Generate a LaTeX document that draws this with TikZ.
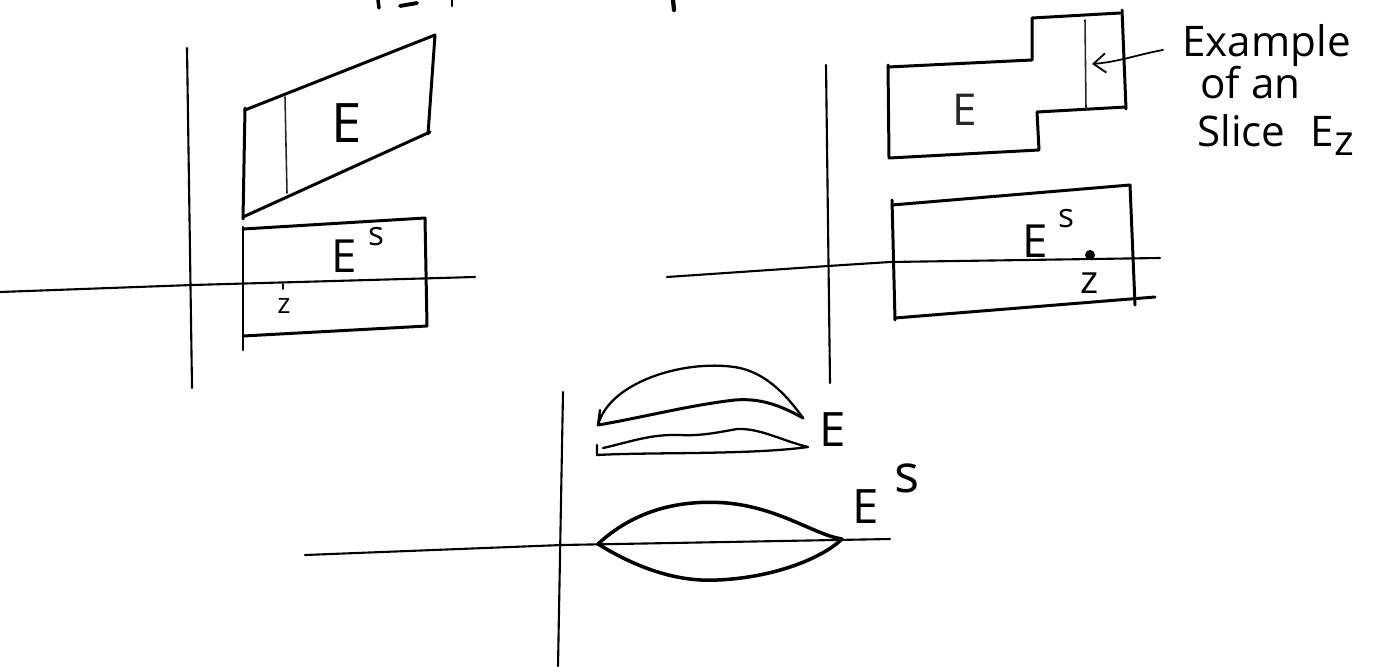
\documentclass[tikz,border=0pt]{standalone}
\usepackage{fontspec}
\setmainfont{Open Sans}
\usetikzlibrary{arrows.meta}
\begin{document}
\begin{tikzpicture}[x=0.02cm,y=-0.02cm, line cap=round, line join=round,
  axisline/.style={line width=1.2pt},
  edgeline/.style={line width=1.7pt},
  thinline/.style={line width=0.9pt, black!85},
  lbl/.style={inner sep=0pt, font=\fontsize{#1}{#1}\selectfont},
]
\useasboundingbox (0,0) rectangle (1388,666);

% cut-off title fragments at the top edge
\draw[line width=2pt] (378,0) -- (379,8);
\draw[line width=2.2pt] (400,6) -- (417,3);
\draw[line width=1.6pt] (452,0) -- (452,6);
\draw[line width=2.4pt] (673,0) -- (674,10);

% ---------------- left panel ----------------
\draw[axisline] (187,48) -- (192,388);
\draw[axisline] (0,292) -- (192,285) -- (475,277);
\draw[edgeline] (245,110) -- (435,35) -- (428,134);
\draw[edgeline] (430,132) -- (243,217) -- cycle;
\draw[edgeline] (245,108) -- (243,219);
\draw[thinline] (285,97) -- (287,193);
\node[lbl=31] (eA) at (347,123) {E};

\draw[edgeline] (243,229) -- (425,218) -- (427,326) -- (243,336);
\draw[edgeline] (243,227) -- (243,350);
\node[lbl=26] (esA) at (344,256) {E};
\node[lbl=19] (sA) at (376,237) {s};
\node[lbl=16] (zA) at (284,306) {z};
\draw[line width=1pt] (283,284) -- (283,289);

% ---------------- right panel ----------------
\draw[axisline] (826,65) -- (830,383);
\draw[axisline] (667,277) -- (828,266) -- (890,262) -- (1160,258);
\draw[edgeline] (888,67) -- (1032,60) -- (1032,18) -- (1120,13);
\draw[edgeline] (1122,10) -- (1126,109);
\draw[edgeline] (1126,107) -- (1037,112) -- (1039,150) -- (889,158) -- (888,65);
\draw[thinline] (1085,20) -- (1086,110);
\node[lbl=25, text=black!85] (eB) at (965,110) {E};

\coordinate (arrS) at (1163,50);
\coordinate (arrE) at (1092,64);
\draw[line width=1pt, -{Straight Barb[length=7pt,width=11pt]}] (arrS) .. controls (1140,54) and (1118,62) .. (arrE);

\node[lbl=24, anchor=base west] (ex1) at (1182,56) {Example};
\node[lbl=24, anchor=base west] (ex2) at (1200,98) {of an};
\node[lbl=24, anchor=base west] (ex3) at (1197,146) {Slice\hspace{0.6em}E\raisebox{-0.4ex}{z}};

\draw[edgeline] (892,205) -- (1130,185) -- (1135,305);
\draw[edgeline] (895,318) -- (1155,297);
\draw[edgeline] (892,200) -- (895,320);
\node[lbl=26] (esB) at (1035,241) {E};
\node[lbl=19] (sB) at (1066,219) {s};
\fill (1090,255) circle (5);
\node[lbl=22] (zB) at (1090,283) {z};

% ---------------- bottom panel ----------------
\draw[axisline] (563,392) -- (558,666);
\draw[axisline] (305,555) -- (562,545) -- (890,539);

\draw[line width=1.3pt] (600,410) -- (598,425)
  .. controls (610,380) and (690,358) .. (740,368)
  .. controls (770,375) and (790,400) .. (803,418);
\draw[edgeline] (803,418) .. controls (780,405) and (760,398) .. (735,400)
  .. controls (690,405) and (640,418) .. (598,425);
\draw[line width=1.3pt] (597,445) -- (597,455)
  .. controls (650,452) and (750,455) .. (808,447)
  .. controls (780,440) and (760,428) .. (737,429)
  .. controls (715,433) and (700,436) .. (680,435)
  .. controls (650,434) and (630,442) .. (603,448);
\node[lbl=27] (eC) at (833,430) {E};

\draw[line width=2pt] (598,544) .. controls (640,505) and (690,500) .. (727,503)
  .. controls (780,508) and (815,535) .. (842,539);
\draw[line width=2pt] (598,544) .. controls (640,570) and (680,582) .. (717,580)
  .. controls (770,578) and (820,560) .. (842,539);
\node[lbl=27] (esC) at (866,507) {E};
\node[lbl=30] (sC) at (907,478) {s};
\end{tikzpicture}
\end{document}
